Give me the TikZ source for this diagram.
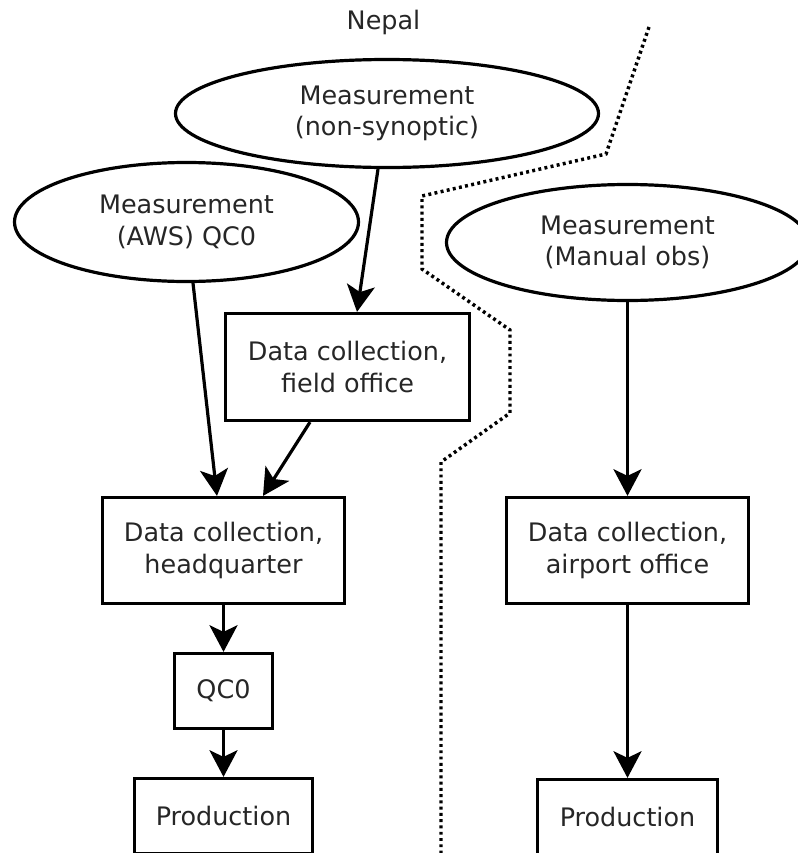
\documentclass[tikz,border=0pt]{standalone}
\usepackage{fontspec}
\setmainfont{DejaVu Sans}
\usetikzlibrary{arrows.meta,calc,shapes.geometric}
\definecolor{txt}{gray}{0.15}
\tikzset{
  lbl/.style={text=txt,font=\fontsize{19.1pt}{23.5pt}\selectfont,align=center,inner sep=0pt},
  ell/.style={lbl,draw=black,line width=2.4pt,ellipse},
  box/.style={lbl,draw=black,line width=2.4pt,rectangle},
  arr/.style={draw=black,line width=2.4pt,-{Stealth[length=20pt,width=21pt,inset=5pt]}},
  border/.style={draw=black,line width=2.6pt,dash pattern=on 2.2pt off 2.5pt}
}
\begin{document}
\begin{tikzpicture}[x=0.75pt,y=-0.75pt]
\useasboundingbox (0,0) rectangle (798,853);
\clip (0,0) rectangle (798,853);
\node[lbl] (nepal) at (383.5,22.5) {Nepal};
\node[ell,minimum width=317.25pt,minimum height=81pt] (ns) at (387,113.5) {Measurement\\(non-synoptic)};
\node[ell,minimum width=258pt,minimum height=89.25pt] (aws) at (186.5,222) {Measurement\\(AWS) QC0};
\node[ell,minimum width=271.5pt,minimum height=87pt] (man) at (627.5,242.5) {Measurement\\(Manual obs)};
\node[box,minimum width=183pt,minimum height=80.25pt] (fo) at (347.5,367) {Data collection,\\field office};
\node[box,minimum width=181.5pt,minimum height=79.5pt] (hq) at (223.5,550.5) {Data collection,\\headquarter};
\node[box,minimum width=181.5pt,minimum height=79.5pt] (ap) at (627.5,550.5) {Data collection,\\airport office};
\node[box,minimum width=73.5pt,minimum height=56.25pt] (qc) at (223.5,691) {QC0};
\node[box,minimum width=133.5pt,minimum height=56.25pt] (pl) at (223.5,816) {Production};
\node[box,minimum width=135pt,minimum height=56.25pt] (pr) at (627.5,817) {Production};
\draw[arr] ($(ns.south)+(-9,0)$) -- ($(fo.north)+(9.5,0)$);
\draw[arr] ($(aws.south)+(6.5,0)$) -- ($(hq.north)+(-6.5,0)$);
\draw[arr] ($(fo.south)+(-37.5,0)$) -- ($(hq.north)+(39.5,0)$);
\draw[arr] (hq.south) -- (qc.north);
\draw[arr] (qc.south) -- (pl.north);
\draw[arr] (man.south) -- (ap.north);
\draw[arr] (ap.south) -- (pr.north);
\draw[border] (649,27) -- (606,154) -- (422,196) -- (422,269) -- (510,330) -- (510,413) -- (441,462) -- (441,860);
\end{tikzpicture}
\end{document}
